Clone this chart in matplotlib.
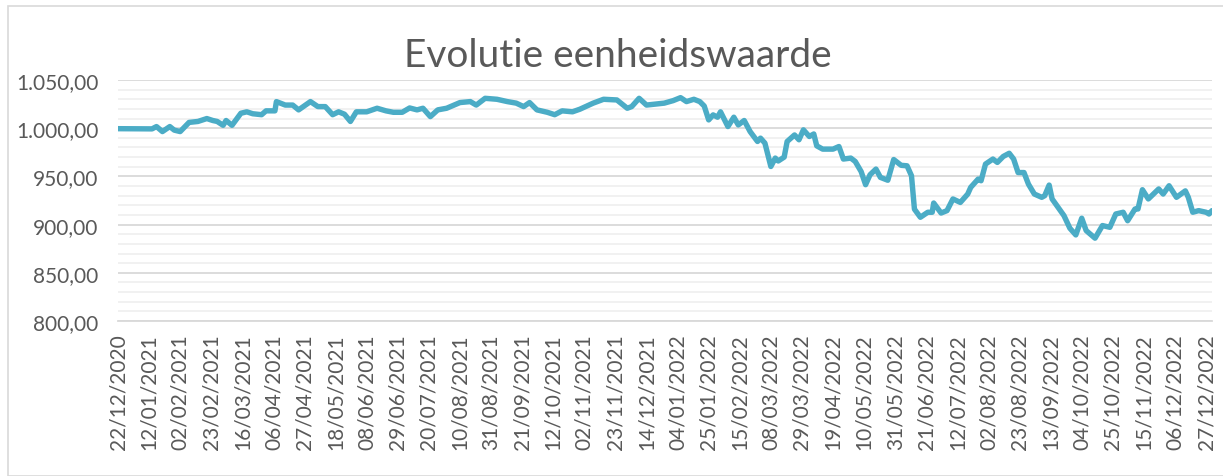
"""Evolutie eenheidswaarde - lijngrafiek in Excel-stijl."""
import datetime as dt
import numpy as np
import matplotlib
matplotlib.use('Agg')
import matplotlib.pyplot as plt
import matplotlib.dates as mdates
from matplotlib.ticker import MultipleLocator, FuncFormatter
from matplotlib.patches import Rectangle

START = dt.date(2020, 12, 22)

# dagen sinds 22/12/2020 en eenheidswaarde
dagen = [0, 23, 26, 30, 35, 38, 42, 48, 54, 60, 64, 67, 71, 73, 77, 83, 87, 91,
         97, 100, 106, 107, 113, 118, 122, 130, 135, 140, 145, 149, 153, 157,
         161, 168, 175, 181, 186, 192, 197, 202, 206, 211, 216, 222, 231, 238,
         242, 248, 256, 263, 269, 274, 278, 283, 290, 295, 300, 307, 312, 321,
         328, 337, 344, 347, 352, 357, 363, 369, 375, 380, 384, 389, 393, 396,
         399, 402, 405, 407, 412, 416, 419, 423, 427, 432, 434, 437, 441, 444,
         446, 450, 452, 457, 460, 463, 467, 470, 472, 476, 483, 487, 490, 495,
         498, 502, 505, 508, 512, 515, 520, 524, 529, 533, 536, 538, 542, 547,
         550, 551, 556, 560, 564, 569, 574, 576, 581, 583, 586, 591, 594, 598,
         602, 605, 608, 612, 615, 619, 624, 626, 629, 631, 635, 639, 643, 647,
         651, 654, 660, 665, 670, 674, 679, 682, 687, 689, 692, 696, 703, 706,
         710, 715, 721, 723, 726, 730, 735, 737, 739]
waarde = [999.5, 999.3, 1001.7, 996.5, 1001.7, 998.0, 996.5, 1006.0, 1007.0,
          1010.0, 1008.0, 1007.0, 1003.0, 1008.0, 1003.0, 1015.5, 1017.0, 1015.0,
          1014.0, 1018.0, 1018.0, 1027.6, 1024.0, 1024.0, 1019.0, 1027.6, 1022.4,
          1022.4, 1014.0, 1017.0, 1014.5, 1007.0, 1017.0, 1017.0, 1020.7, 1018.0,
          1016.5, 1016.5, 1021.0, 1019.0, 1020.7, 1012.0, 1019.0, 1020.7, 1026.6,
          1027.6, 1024.0, 1031.0, 1030.0, 1027.6, 1026.0, 1022.4, 1026.6, 1019.0,
          1016.5, 1014.0, 1018.0, 1017.0, 1019.7, 1026.0, 1030.0, 1029.3, 1020.7,
          1022.4, 1031.0, 1024.0, 1025.0, 1026.0, 1028.6, 1031.7, 1027.6, 1030.0,
          1027.6, 1023.0, 1008.6, 1013.8, 1011.4, 1017.0, 1001.7, 1011.4, 1003.4,
          1008.0, 996.5, 986.2, 989.7, 984.5, 960.3, 969.0, 966.0, 970.0, 986.2,
          993.0, 988.0, 998.3, 991.4, 994.0, 981.7, 978.3, 978.3, 981.0, 968.0,
          969.0, 965.5, 955.0, 941.4, 951.7, 957.6, 949.0, 946.0, 967.5, 961.5,
          961.0, 950.7, 916.0, 907.6, 912.8, 912.8, 922.4, 912.0, 914.5, 926.6,
          923.0, 931.7, 938.6, 947.2, 945.5, 962.8, 968.0, 964.5, 970.7, 974.0,
          968.0, 954.0, 954.0, 942.0, 931.7, 928.3, 930.0, 941.0, 926.6, 918.0,
          909.3, 896.2, 889.3, 906.6, 893.8, 885.9, 899.0, 897.2, 911.0, 912.8,
          904.0, 916.2, 916.2, 936.2, 926.6, 937.0, 931.7, 940.3, 928.3, 935.0,
          928.3, 912.8, 914.5, 912.8, 911.0, 914.5]

datums = [START + dt.timedelta(days=d) for d in dagen]
tick_datums = [START + dt.timedelta(days=21 * i) for i in range(36)]

GRIJS = '#595959'
FONT = 'Lato'

fig = plt.figure(figsize=(12.23, 4.77), dpi=100)
fig.patches.append(Rectangle((8 / 1223, 0), 1.2, 1 - 7 / 477, transform=fig.transFigure,
                             fill=False, edgecolor='#d9d9d9', lw=1.2))
ax = fig.add_axes([118 / 1223, 1 - 322 / 477, (1212 - 118) / 1223, (322 - 81) / 477])

ax.plot(datums, waarde, color='#4bacc6', lw=3.9, solid_joinstyle='round',
        solid_capstyle='round', zorder=3)

ax.set_ylim(800, 1050)
ax.set_xlim(mdates.date2num(START), mdates.date2num(START + dt.timedelta(days=739)))
ax.yaxis.set_major_locator(MultipleLocator(50))
ax.yaxis.set_minor_locator(MultipleLocator(10))
ax.yaxis.set_major_formatter(FuncFormatter(
    lambda v, p: f'{v:,.2f}'.replace(',', 'X').replace('.', ',').replace('X', '.')))
ax.grid(axis='y', which='major', color='#d9d9d9', lw=1.3)
ax.grid(axis='y', which='minor', color='#f0f0f0', lw=1.3)
ax.set_axisbelow(True)

ax.set_xticks([mdates.date2num(d) for d in tick_datums])
ax.set_xticklabels([d.strftime('%d/%m/%Y') for d in tick_datums], rotation=90)

for s in ['top', 'right', 'left']:
    ax.spines[s].set_visible(False)
ax.spines['bottom'].set_color('#d9d9d9')
ax.spines['bottom'].set_linewidth(1.3)
ax.tick_params(axis='both', which='both', length=0, colors=GRIJS, labelsize=15)
ax.tick_params(axis='y', pad=14)
ax.tick_params(axis='x', pad=9)
for t in ax.get_xticklabels() + ax.get_yticklabels():
    t.set_family(FONT)

fig.text(618 / 1223, 1 - 56 / 477, 'Evolutie eenheidswaarde', ha='center', va='center',
         fontsize=28, color=GRIJS, family=FONT)

fig.savefig('out.png', dpi=100)
